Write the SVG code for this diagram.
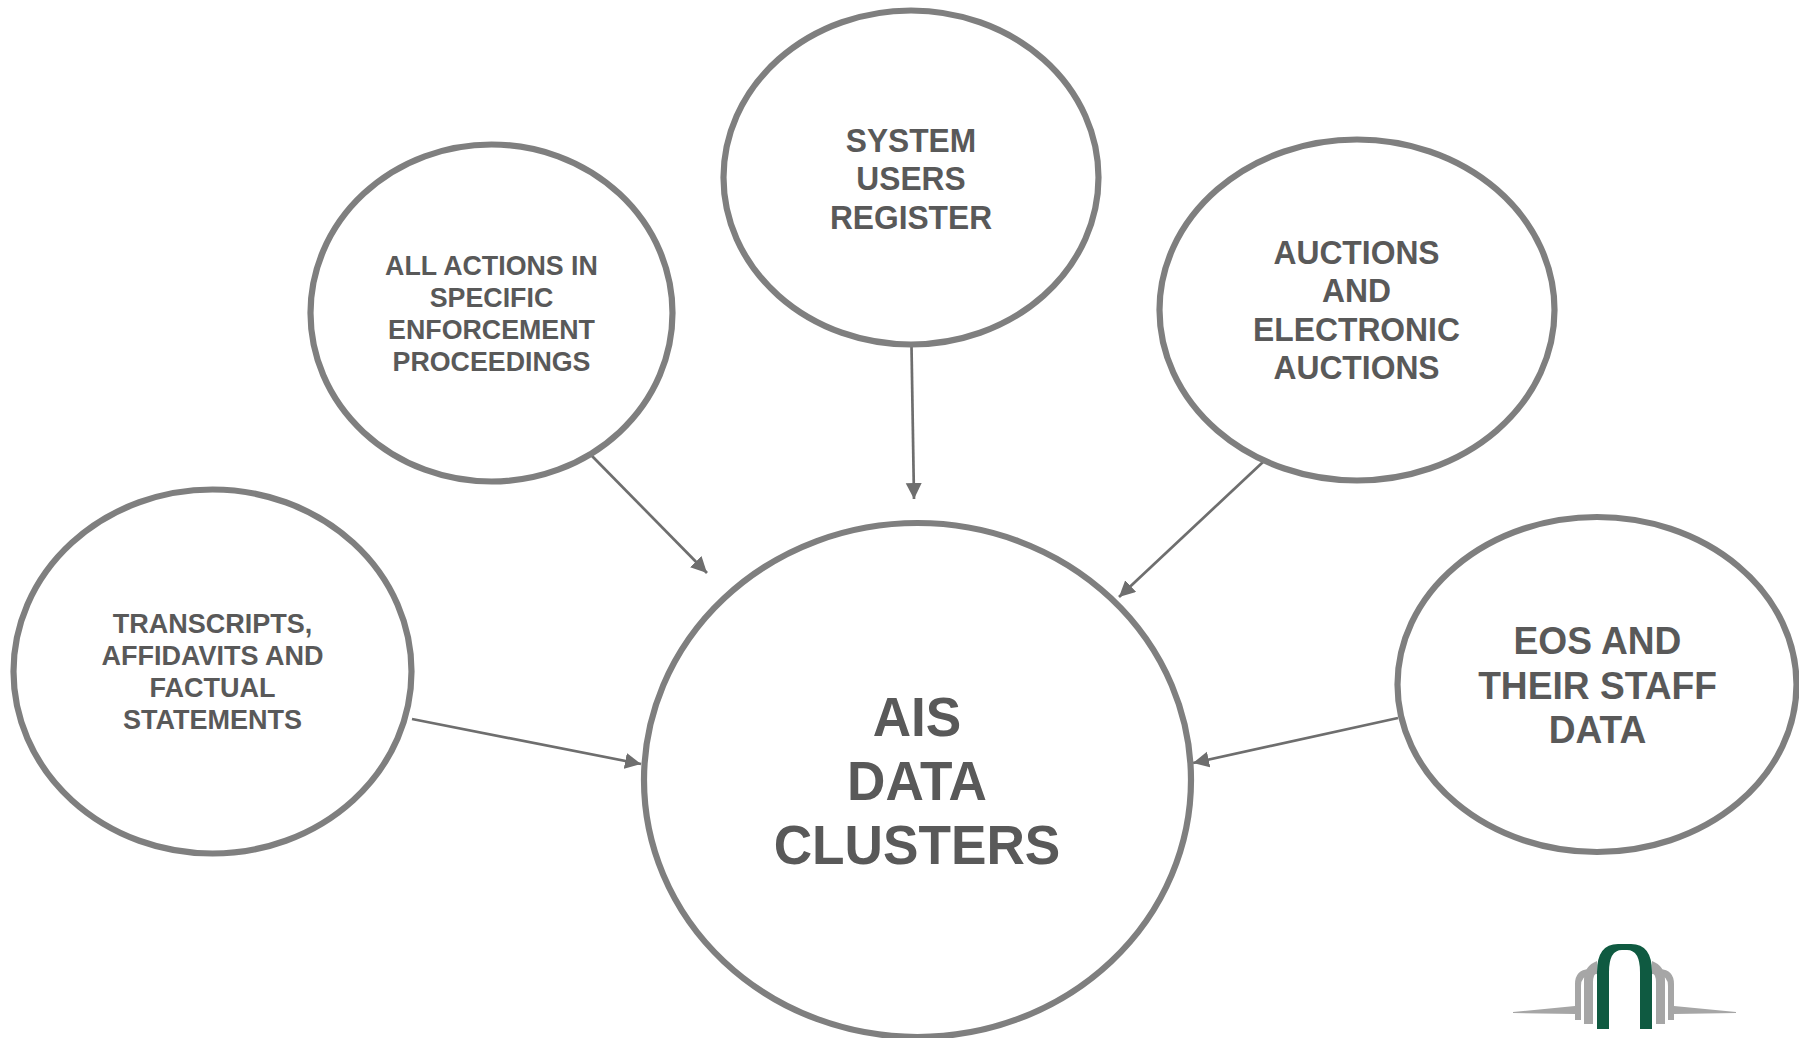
<svg xmlns="http://www.w3.org/2000/svg" width="1799" height="1038" viewBox="0 0 1799 1038">
<style>
.c{fill:#fff;stroke:#7f7f7f;stroke-width:6.2}
.t{font-family:"Liberation Sans",Arial,sans-serif;font-weight:700;fill:#595959;text-anchor:middle}
.s{font-size:28px}.m{font-size:33.4px}.l{font-size:39px}.x{font-size:56px}
.a{stroke:#6e6e6e;stroke-width:2.7;fill:none;marker-end:url(#h)}
.g{fill:#a6a6a6}
</style>
<defs><marker id="h" markerUnits="userSpaceOnUse" markerWidth="18" markerHeight="17" refX="16" refY="8" orient="auto"><path d="M0 0L16 8L0 16Z" fill="#6e6e6e"/></marker></defs>
<rect width="1799" height="1038" fill="#fff"/>
<g id="connectors">
<line class="a" x1="592" y1="456" x2="707" y2="573"/>
<line class="a" x1="911.5" y1="346" x2="914" y2="499"/>
<line class="a" x1="1263" y1="462" x2="1119" y2="597"/>
<line class="a" x1="412" y1="719" x2="641" y2="764"/>
<line class="a" x1="1398" y1="718" x2="1193" y2="763"/>
</g>
<g id="node-center"><ellipse class="c" cx="917.5" cy="780" rx="273.5" ry="257"/>
<g transform="translate(917 0) scale(.95 1)" class="t x"><text y="736">AIS</text><text y="800">DATA</text><text y="864">CLUSTERS</text></g></g>
<g id="node-top"><ellipse class="c" cx="911" cy="177.5" rx="187.5" ry="167"/>
<g transform="translate(911 0) scale(.95 1)" class="t m"><text y="152.5">SYSTEM</text><text y="190.5">USERS</text><text y="229">REGISTER</text></g></g>
<g id="node-upper-left"><ellipse class="c" cx="491.5" cy="313" rx="181" ry="168.5"/>
<g transform="translate(491.5 0) scale(.957 1)" class="t s"><text y="275.5">ALL ACTIONS IN</text><text y="307.5">SPECIFIC</text><text y="339.5">ENFORCEMENT</text><text y="371.5">PROCEEDINGS</text></g></g>
<g id="node-left"><ellipse class="c" cx="212.5" cy="671.5" rx="199" ry="182"/>
<g transform="translate(212.5 0) scale(.965 1)" class="t s"><text y="633">TRANSCRIPTS,</text><text y="665">AFFIDAVITS AND</text><text y="697">FACTUAL</text><text y="729">STATEMENTS</text></g></g>
<g id="node-upper-right"><ellipse class="c" cx="1357" cy="310" rx="197.5" ry="170.5"/>
<g transform="translate(1356.5 0) scale(.953 1)" class="t m"><text y="264">AUCTIONS</text><text y="302">AND</text><text y="341">ELECTRONIC</text><text y="379">AUCTIONS</text></g></g>
<g id="node-right"><ellipse class="c" cx="1597" cy="684.5" rx="199.5" ry="167.5"/>
<g transform="translate(1597.5 0) scale(.953 1)" class="t l"><text y="654">EOS AND</text><text y="699">THEIR STAFF</text><text y="743">DATA</text></g></g>
<g id="logo">
<path class="g" d="M1513 1012L1575 1006V1014L1513 1013ZM1736 1012L1674 1006V1014L1736 1013Z"/>
<path class="g" d="M1575 1020V984Q1575 970 1589 969L1597 968V974L1590 975Q1581 976 1581 986V1020ZM1674 1020V984Q1674 970 1660 969L1652 968V974L1659 975Q1668 976 1668 986V1020Z"/>
<path class="g" d="M1584 1024V980Q1584 966 1597 961V972Q1593 975 1593 982V1024ZM1665 1024V980Q1665 966 1652 961V972Q1656 975 1656 982V1024Z"/>
<path d="M1597 1029V972Q1597 944 1618 944H1631Q1652 944 1652 972V1029H1640V972Q1640 950 1627 950H1622Q1609 950 1609 972V1029Z" fill="#0f5a41"/>
</g>
</svg>
